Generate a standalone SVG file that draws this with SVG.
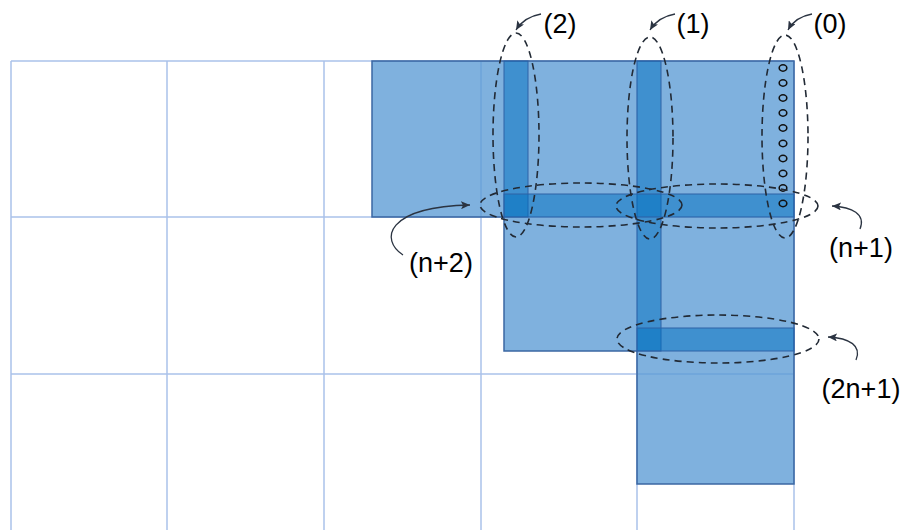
<svg xmlns="http://www.w3.org/2000/svg" width="910" height="530" viewBox="0 0 910 530">
<defs>
<marker id="ah" markerWidth="10" markerHeight="8" refX="9" refY="4" orient="auto" markerUnits="userSpaceOnUse">
<path d="M0,0 L9,4 L0,8 L2,4 Z" fill="#2b3442"/>
</marker>
<style>
.grid{stroke:#aac2ea;stroke-width:1.5;fill:none}
.blk{fill:#5b9bd5;fill-opacity:0.78;stroke:#3b67a3;stroke-width:1.5}
.strip{fill:#0070c0;fill-opacity:0.5;stroke:#2e62a6;stroke-width:1}
.dash{fill:none;stroke:#222a35;stroke-width:1.6;stroke-dasharray:7 5}
.dot{fill:none;stroke:#111;stroke-width:1.6}
.arr{fill:none;stroke:#2b3442;stroke-width:1.3;marker-end:url(#ah)}
.lbl{font-family:"Liberation Sans",Arial,sans-serif;font-size:27px;fill:#000;text-anchor:middle}
</style>
</defs>
<rect width="910" height="530" fill="#fff"/>
<g id="grid">
<path class="grid" d="M11,61V530M167,61V530M324,61V530M481,61V530M637,61V530M794,61V530M11,61H794M11,217H794M11,374H794"/>
</g>
<g id="block">
<path class="blk" d="M372,61H794V484H637V351H504V217H372Z"/>
</g>
<g id="strips">
<rect class="strip" x="504" y="61" width="24" height="156"/>
<rect class="strip" x="637" y="61" width="24" height="290"/>
<rect class="strip" x="504" y="194" width="290" height="23"/>
<rect class="strip" x="637" y="328" width="157" height="23"/>
</g>
<g id="dots">
<ellipse class="dot" cx="783" cy="68" rx="3.8" ry="3.2"/>
<ellipse class="dot" cx="783" cy="83" rx="3.8" ry="3.2"/>
<ellipse class="dot" cx="783" cy="98" rx="3.8" ry="3.2"/>
<ellipse class="dot" cx="783" cy="113" rx="3.8" ry="3.2"/>
<ellipse class="dot" cx="783" cy="128" rx="3.8" ry="3.2"/>
<ellipse class="dot" cx="783" cy="143.5" rx="3.8" ry="3.2"/>
<ellipse class="dot" cx="783" cy="158.5" rx="3.8" ry="3.2"/>
<ellipse class="dot" cx="783" cy="173.5" rx="3.8" ry="3.2"/>
<ellipse class="dot" cx="783" cy="188" rx="3.8" ry="3.2"/>
<ellipse class="dot" cx="783" cy="203.5" rx="3.8" ry="3.2"/>
</g>
<g id="ellipses">
<ellipse id="e2" class="dash" cx="516" cy="135" rx="23" ry="102"/>
<ellipse id="e1" class="dash" cx="650" cy="138" rx="23" ry="101"/>
<ellipse id="e0" class="dash" cx="785" cy="136.5" rx="23" ry="101.5"/>
<ellipse id="en2" class="dash" cx="581" cy="205" rx="101" ry="22"/>
<ellipse id="en1" class="dash" cx="717" cy="206" rx="101" ry="22"/>
<ellipse id="e2n1" class="dash" cx="718" cy="339" rx="101" ry="24"/>
</g>
<g id="connectors">
<path class="arr" d="M541,14 Q524,17 516,30"/>
<path class="arr" d="M675,14 Q658,17 650,30"/>
<path class="arr" d="M812,14 Q795,17 788,30"/>
<path class="arr" d="M860,229 C866,214 852,207 832,206"/>
<path class="arr" d="M856,360 C862,346 850,338 828,337"/>
<path class="arr" d="M403,255 C380,240 385,207 470,205"/>
</g>
<g id="labels">
<text class="lbl" x="560" y="33">(2)</text>
<text class="lbl" x="693" y="33">(1)</text>
<text class="lbl" x="830" y="33">(0)</text>
<text class="lbl" x="861" y="257">(n+1)</text>
<text class="lbl" x="441" y="272">(n+2)</text>
<text class="lbl" x="861" y="398">(2n+1)</text>
</g>
</svg>
